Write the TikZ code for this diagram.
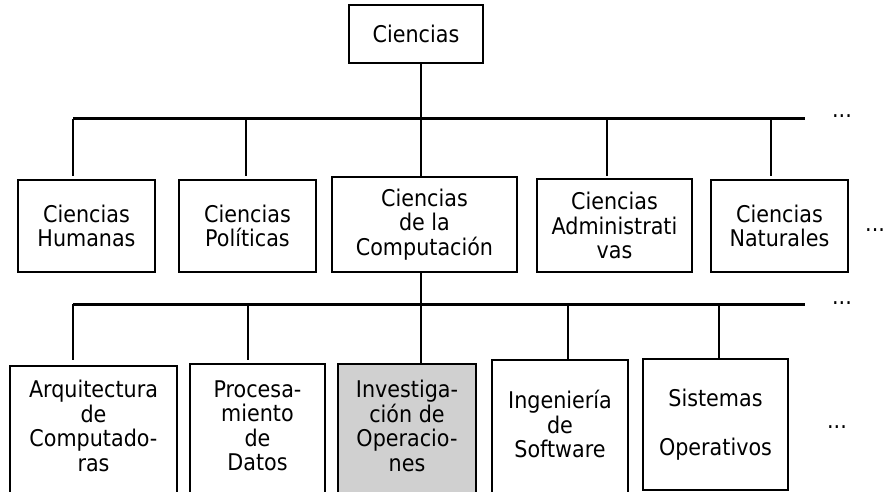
\documentclass[tikz,border=0pt]{standalone}
\usepackage{fontspec}
\setmainfont{DejaVu Sans Condensed}
\begin{document}
\begin{tikzpicture}[x=1pt,y=-1pt,
  every node/.style={font=\fontsize{23}{24.5}\selectfont},
  box/.style={draw, line width=2.3pt, rectangle, inner sep=0pt, align=center},
  txt/.style={align=center, inner sep=0pt},
  bus/.style={line width=3pt},
  link/.style={line width=2.3pt},
  more/.style={inner sep=0pt}]
\clip (0,0) rectangle (886,492);
\fill[white] (0,0) rectangle (886,492);

% root
\node[box, minimum width=134pt, minimum height=58pt] (top) at (416,34) {Ciencias};

% first level
\node[box, minimum width=137pt, minimum height=92pt] (hum) at (86.5,226) {Ciencias\\Humanas};
\node[box, minimum width=137pt, minimum height=92pt] (pol) at (247.5,226) {Ciencias\\Políticas};
\node[box, minimum width=185pt, minimum height=95pt] (comp) at (424.5,224.5) {Ciencias\\de la\\Computación};
\node[box, minimum width=155pt, minimum height=93pt] (adm) at (614.5,225.5) {Ciencias\\Administrati\\vas};
\node[box, minimum width=137pt, minimum height=92pt] (nat) at (779.5,226) {Ciencias\\Naturales};

% second level (lower edges run off the sheet)
\node[box, anchor=north, minimum width=167pt, minimum height=140pt] (arq) at (93.5,365) {};
\node[txt] (arq-t) at (93.5,426) {Arquitectura\\de\\Computado-\\ras};
\node[box, anchor=north, minimum width=135pt, minimum height=140pt] (pro) at (257.5,363) {};
\node[txt] (pro-t) at (257.5,426) {Procesa-\\miento\\de\\Datos};
\node[box, anchor=north, fill={rgb,255:red,208;green,208;blue,208}, minimum width=138pt, minimum height=140pt] (inv) at (407,363) {};
\node[txt] (inv-t) at (407,426) {Investiga-\\ción de\\Operacio-\\nes};
\node[box, anchor=north, minimum width=136pt, minimum height=140pt] (ing) at (560,359) {};
\node[txt] (ing-t) at (560,424) {Ingeniería\\de\\Software};
\node[box, minimum width=145pt, minimum height=131pt] (sis) at (715.5,424.5) {Sistemas\\[24pt]Operativos};

% buses
\coordinate (b1l) at (73,119);
\coordinate (b1r) at (805,119);
\coordinate (b2l) at (73,304);
\coordinate (b2r) at (805,304);
\draw[bus] (b1l) -- (b1r);
\draw[bus] (b2l) -- (b2r);

% root to first bus, first level to second bus
\coordinate (j1) at (421,119);
\coordinate (j2) at (421,304);
\draw[link] (top.south -| j1) -- (j1);
\draw[link] (comp.south -| j2) -- (j2);

% drops of the first level
\foreach \x [count=\i] in {73,246,421,607,771} {
  \coordinate (u\i) at (\x,119);
  \coordinate (v\i) at (\x,176);
  \draw[link] (u\i) -- (v\i);
}
\draw[link] (v3) -- (v3 |- comp.north);

% drops of the second level
\foreach \x [count=\i] in {73,248,421,568,719} {
  \coordinate (p\i) at (\x,304);
  \coordinate (q\i) at (\x,360);
  \draw[link] (p\i) -- (q\i);
}
\draw[link] (q3) -- (q3 |- inv.north);

% continuation marks
\node[more] (m1) at (842,116) {...};
\node[more] (m2) at (842,303) {...};
\node[more, anchor=west] (m3) at (865,230) {...};
\node[more] (m4) at (837,427) {...};
\end{tikzpicture}
\end{document}
